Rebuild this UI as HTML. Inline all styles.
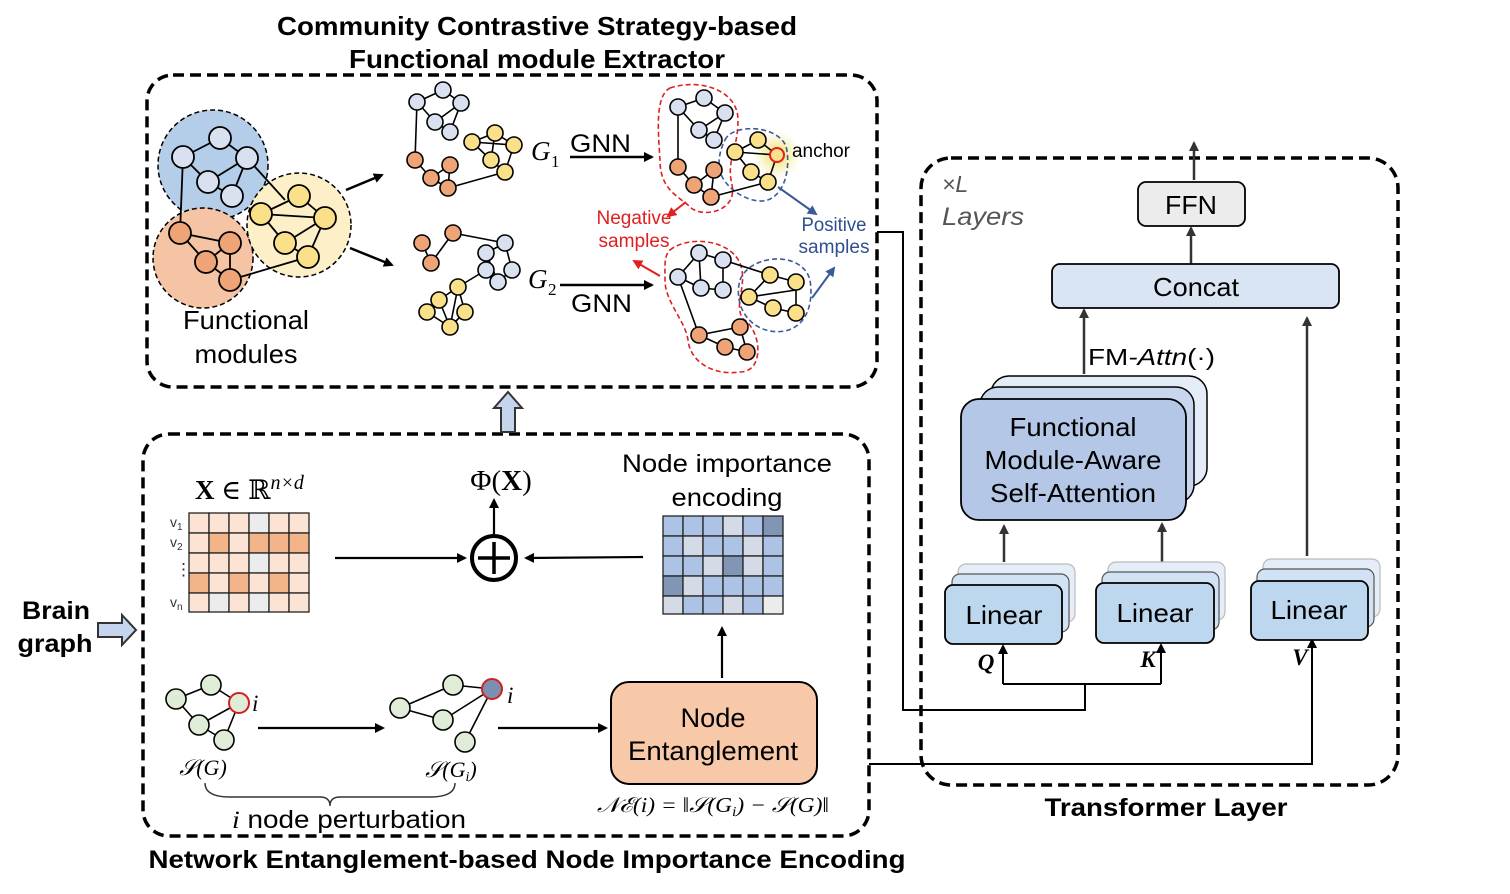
<!DOCTYPE html>
<html><head><meta charset="utf-8"><style>
html,body{margin:0;padding:0;background:#fff}
svg{display:block}
text{font-family:"Liberation Sans",sans-serif}
.ser{font-family:"Liberation Serif","DejaVu Serif",serif}
</style></head><body>
<svg width="1510" height="894" viewBox="0 0 1510 894" xmlns="http://www.w3.org/2000/svg">
<defs>
<marker id="ah" markerWidth="10" markerHeight="10" refX="8" refY="5" orient="auto" markerUnits="userSpaceOnUse"><path d="M0,0 L10,5 L0,10 Z" fill="#000"/></marker>
<marker id="ahg" markerWidth="10" markerHeight="10" refX="8" refY="5" orient="auto" markerUnits="userSpaceOnUse"><path d="M0,0 L10,5 L0,10 Z" fill="#333"/></marker>
<marker id="ahr" markerWidth="10" markerHeight="10" refX="8" refY="5" orient="auto" markerUnits="userSpaceOnUse"><path d="M0,0 L10,5 L0,10 Z" fill="#e02020"/></marker>
<marker id="ahb" markerWidth="10" markerHeight="10" refX="8" refY="5" orient="auto" markerUnits="userSpaceOnUse"><path d="M0,0 L10,5 L0,10 Z" fill="#3a5a9a"/></marker>
<radialGradient id="glow"><stop offset="0" stop-color="#e8d840" stop-opacity="0.9"/><stop offset="1" stop-color="#f0e880" stop-opacity="0"/></radialGradient>
</defs>

<!-- Titles -->
<text x="537" y="35" font-size="26" font-weight="bold" text-anchor="middle" textLength="520" lengthAdjust="spacingAndGlyphs">Community Contrastive Strategy-based</text>
<text x="537" y="68" font-size="26" font-weight="bold" text-anchor="middle" textLength="376" lengthAdjust="spacingAndGlyphs">Functional module Extractor</text>
<text x="527" y="868" font-size="25" font-weight="bold" text-anchor="middle" textLength="757" lengthAdjust="spacingAndGlyphs">Network Entanglement-based Node Importance Encoding</text>
<text x="1166" y="816" font-size="25" font-weight="bold" text-anchor="middle" textLength="243" lengthAdjust="spacingAndGlyphs">Transformer Layer</text>
<text x="56" y="619" font-size="25" font-weight="bold" text-anchor="middle" textLength="68" lengthAdjust="spacingAndGlyphs">Brain</text>
<text x="55" y="652" font-size="25" font-weight="bold" text-anchor="middle" textLength="75" lengthAdjust="spacingAndGlyphs">graph</text>

<!-- Dashed boxes -->
<rect x="147" y="75" width="730" height="312" rx="26" fill="none" stroke="#000" stroke-width="3.5" stroke-dasharray="11,6"/>
<rect x="143" y="434" width="726" height="402" rx="26" fill="none" stroke="#000" stroke-width="3.5" stroke-dasharray="11,6"/>
<rect x="921" y="158" width="477" height="627" rx="30" fill="none" stroke="#000" stroke-width="3.5" stroke-dasharray="11,6"/>

<!-- block arrows -->
<path d="M98,623 L122,623 L122,615 L136,630 L122,645 L122,637 L98,637 Z" fill="#c5d5ee" stroke="#333" stroke-width="2"/>
<path d="M501,432 L501,408 L494,408 L508,392 L522,408 L515,408 L515,432 Z" fill="#c5d5ee" stroke="#333" stroke-width="2"/>

<!-- Functional modules -->
<g stroke="#000" stroke-width="1.5" stroke-dasharray="5,3">
<circle cx="213" cy="165" r="55" fill="#b4cde8"/>
<circle cx="203" cy="258" r="50" fill="#f5c4a4"/>
<circle cx="299" cy="225" r="52" fill="#fdf0c8"/>
</g>
<g stroke="#000" stroke-width="1.8">
<line x1="183" y1="157" x2="180" y2="233"/>
<line x1="247" y1="158" x2="285" y2="200"/>
<line x1="230" y1="280" x2="308" y2="257"/>
<polyline points="183,157 220,138 247,158 232,196 208,182 183,157" fill="none"/>
<line x1="208" y1="182" x2="247" y2="158"/>
<line x1="180" y1="233" x2="230" y2="243"/><line x1="180" y1="233" x2="206" y2="262"/><line x1="230" y1="243" x2="206" y2="262"/><line x1="206" y1="262" x2="230" y2="280"/><line x1="230" y1="243" x2="230" y2="280"/>
<line x1="299" y1="196" x2="261" y2="214"/><line x1="299" y1="196" x2="325" y2="218"/><line x1="261" y1="214" x2="325" y2="218"/><line x1="261" y1="214" x2="285" y2="243"/><line x1="285" y1="243" x2="325" y2="218"/><line x1="325" y1="218" x2="308" y2="257"/><line x1="285" y1="243" x2="308" y2="257"/>
</g>
<g stroke="#000" stroke-width="1.8">
<g fill="#d9e1f0"><circle cx="183" cy="157" r="11"/><circle cx="220" cy="138" r="11"/><circle cx="247" cy="158" r="11"/><circle cx="208" cy="182" r="11"/><circle cx="232" cy="196" r="11"/></g>
<g fill="#eea476"><circle cx="180" cy="233" r="11"/><circle cx="230" cy="243" r="11"/><circle cx="206" cy="262" r="11"/><circle cx="230" cy="280" r="11"/></g>
<g fill="#fbe08a"><circle cx="299" cy="196" r="11"/><circle cx="261" cy="214" r="11"/><circle cx="325" cy="218" r="11"/><circle cx="285" cy="243" r="11"/><circle cx="308" cy="257" r="11"/></g>
</g>
<text x="246" y="329" font-size="26" text-anchor="middle" textLength="126" lengthAdjust="spacingAndGlyphs">Functional</text>
<text x="246" y="363" font-size="26" text-anchor="middle" textLength="103" lengthAdjust="spacingAndGlyphs">modules</text>
<line x1="346" y1="190" x2="382" y2="175" stroke="#000" stroke-width="2.5" marker-end="url(#ah)"/>
<line x1="350" y1="248" x2="392" y2="265" stroke="#000" stroke-width="2.5" marker-end="url(#ah)"/>

<!-- G1 graph -->
<g stroke="#000" stroke-width="1.6">
<line x1="417" y1="102" x2="443" y2="90"/><line x1="443" y1="90" x2="461" y2="103"/><line x1="417" y1="102" x2="435" y2="122"/><line x1="435" y1="122" x2="461" y2="103"/><line x1="461" y1="103" x2="450" y2="132"/><line x1="435" y1="122" x2="450" y2="132"/>
<line x1="417" y1="102" x2="415" y2="160"/>
<line x1="415" y1="160" x2="431" y2="178"/><line x1="450" y1="165" x2="431" y2="178"/><line x1="431" y1="178" x2="448" y2="188"/><line x1="450" y1="165" x2="448" y2="188"/>
<line x1="448" y1="188" x2="505" y2="172"/>
<line x1="472" y1="142" x2="495" y2="133"/><line x1="495" y1="133" x2="514" y2="145"/><line x1="472" y1="142" x2="514" y2="145"/><line x1="514" y1="145" x2="505" y2="172"/><line x1="491" y1="160" x2="505" y2="172"/><line x1="472" y1="142" x2="491" y2="160"/><line x1="495" y1="133" x2="491" y2="160"/>
</g>
<g stroke="#000" stroke-width="1.6">
<g fill="#d9e1f0"><circle cx="417" cy="102" r="8"/><circle cx="443" cy="90" r="8"/><circle cx="461" cy="103" r="8"/><circle cx="435" cy="122" r="8"/><circle cx="450" cy="132" r="8"/></g>
<g fill="#eea476"><circle cx="415" cy="160" r="8"/><circle cx="450" cy="165" r="8"/><circle cx="431" cy="178" r="8"/><circle cx="448" cy="188" r="8"/></g>
<g fill="#fbe08a"><circle cx="472" cy="142" r="8"/><circle cx="495" cy="133" r="8"/><circle cx="514" cy="145" r="8"/><circle cx="491" cy="160" r="8"/><circle cx="505" cy="172" r="8"/></g>
</g>

<!-- G2 graph -->
<g stroke="#000" stroke-width="1.6">
<line x1="422" y1="243" x2="431" y2="263"/><line x1="453" y1="233" x2="431" y2="263"/><line x1="453" y1="233" x2="505" y2="243"/>
<line x1="505" y1="243" x2="486" y2="253"/><line x1="486" y1="253" x2="486" y2="270"/><line x1="505" y1="243" x2="512" y2="270"/><line x1="512" y1="270" x2="498" y2="282"/><line x1="486" y1="270" x2="498" y2="282"/><line x1="486" y1="253" x2="498" y2="282"/>
<line x1="486" y1="270" x2="458" y2="287"/>
<line x1="458" y1="287" x2="439" y2="300"/><line x1="458" y1="287" x2="465" y2="312"/><line x1="439" y1="300" x2="427" y2="312"/><line x1="439" y1="300" x2="450" y2="327"/><line x1="427" y1="312" x2="450" y2="327"/><line x1="465" y1="312" x2="450" y2="327"/><line x1="458" y1="287" x2="450" y2="327"/>
</g>
<g stroke="#000" stroke-width="1.6">
<g fill="#eea476"><circle cx="422" cy="243" r="8"/><circle cx="453" cy="233" r="8"/><circle cx="431" cy="263" r="8"/></g>
<g fill="#d9e1f0"><circle cx="505" cy="243" r="8"/><circle cx="486" cy="253" r="8"/><circle cx="512" cy="270" r="8"/><circle cx="498" cy="282" r="8"/><circle cx="486" cy="270" r="8"/></g>
<g fill="#fbe08a"><circle cx="458" cy="287" r="8"/><circle cx="439" cy="300" r="8"/><circle cx="465" cy="312" r="8"/><circle cx="427" cy="312" r="8"/><circle cx="450" cy="327" r="8"/></g>
</g>

<!-- G labels & GNN -->
<text x="531" y="160" font-size="27" font-style="italic" class="ser">G</text><text x="551" y="167" font-size="17" class="ser">1</text>
<text x="570" y="152" font-size="25" textLength="61" lengthAdjust="spacingAndGlyphs">GNN</text>
<line x1="570" y1="157" x2="652" y2="157" stroke="#000" stroke-width="2.5" marker-end="url(#ah)"/>
<text x="528" y="288" font-size="27" font-style="italic" class="ser">G</text><text x="548" y="295" font-size="17" class="ser">2</text>
<text x="571" y="312" font-size="25" textLength="61" lengthAdjust="spacingAndGlyphs">GNN</text>
<line x1="560" y1="285" x2="652" y2="285" stroke="#000" stroke-width="2.5" marker-end="url(#ah)"/>

<!-- G1 embedding cluster -->
<circle cx="777" cy="155" r="24" fill="url(#glow)"/>
<path d="M670,88 C700,78 738,90 738,120 C738,150 726,160 732,185 C738,212 700,220 688,205 C676,195 660,188 660,160 C658,130 655,96 670,88Z" fill="none" stroke="#e02020" stroke-width="1.6" stroke-dasharray="5,3"/>
<path d="M725,140 C732,124 776,124 786,146 C792,172 782,202 760,201 C740,200 719,182 719,165 C719,155 721,148 725,140Z" fill="none" stroke="#3a5a9a" stroke-width="1.6" stroke-dasharray="5,3"/>
<g stroke="#000" stroke-width="1.6">
<line x1="678" y1="107" x2="704" y2="98"/><line x1="704" y1="98" x2="725" y2="113"/><line x1="678" y1="107" x2="699" y2="130"/><line x1="699" y1="130" x2="725" y2="113"/><line x1="725" y1="113" x2="714" y2="140"/><line x1="699" y1="130" x2="714" y2="140"/>
<line x1="678" y1="107" x2="678" y2="167"/>
<line x1="678" y1="167" x2="694" y2="185"/><line x1="714" y1="170" x2="694" y2="185"/><line x1="694" y1="185" x2="711" y2="197"/><line x1="714" y1="170" x2="711" y2="197"/>
<line x1="711" y1="197" x2="768" y2="182"/>
<line x1="735" y1="152" x2="758" y2="140"/><line x1="758" y1="140" x2="777" y2="155"/><line x1="735" y1="152" x2="777" y2="155"/><line x1="777" y1="155" x2="768" y2="182"/><line x1="751" y1="172" x2="768" y2="182"/><line x1="735" y1="152" x2="751" y2="172"/>
</g>
<g stroke="#000" stroke-width="1.6">
<g fill="#d9e1f0"><circle cx="678" cy="107" r="8"/><circle cx="704" cy="98" r="8"/><circle cx="725" cy="113" r="8"/><circle cx="699" cy="130" r="8"/><circle cx="714" cy="140" r="8"/></g>
<g fill="#eea476"><circle cx="678" cy="167" r="8"/><circle cx="714" cy="170" r="8"/><circle cx="694" cy="185" r="8"/><circle cx="711" cy="197" r="8"/></g>
<g fill="#fbe08a"><circle cx="735" cy="152" r="8"/><circle cx="758" cy="140" r="8"/><circle cx="751" cy="172" r="8"/><circle cx="768" cy="182" r="8"/></g>
</g>
<circle cx="777" cy="155" r="7" fill="#fbe08a" stroke="#e02020" stroke-width="2"/>
<text x="792" y="157" font-size="19" textLength="58" lengthAdjust="spacingAndGlyphs">anchor</text>
<line x1="686" y1="202" x2="668" y2="216" stroke="#e02020" stroke-width="2" marker-end="url(#ahr)"/>
<line x1="778" y1="187" x2="816" y2="214" stroke="#3a5a9a" stroke-width="2" marker-end="url(#ahb)"/>
<text x="634" y="224" font-size="19" fill="#e02020" text-anchor="middle" textLength="75" lengthAdjust="spacingAndGlyphs">Negative</text>
<text x="634" y="247" font-size="19" fill="#e02020" text-anchor="middle" textLength="71" lengthAdjust="spacingAndGlyphs">samples</text>
<text x="834" y="231" font-size="19" fill="#2f4f8f" text-anchor="middle" textLength="65" lengthAdjust="spacingAndGlyphs">Positive</text>
<text x="834" y="253" font-size="19" fill="#2f4f8f" text-anchor="middle" textLength="71" lengthAdjust="spacingAndGlyphs">samples</text>

<!-- G2 embedding cluster -->
<path d="M670,250 C690,234 737,240 742,270 C745,290 735,302 742,318 C762,330 765,372 740,372 C714,376 690,362 688,340 C685,320 665,302 665,280 C665,265 664,256 670,250Z" fill="none" stroke="#e02020" stroke-width="1.6" stroke-dasharray="5,3"/>
<path d="M740,280 C750,254 802,250 810,280 C815,312 800,336 770,331 C745,326 734,302 740,280Z" fill="none" stroke="#3a5a9a" stroke-width="1.6" stroke-dasharray="5,3"/>
<g stroke="#000" stroke-width="1.6">
<line x1="678" y1="277" x2="699" y2="253"/><line x1="699" y1="253" x2="723" y2="260"/><line x1="678" y1="277" x2="701" y2="288"/><line x1="699" y1="253" x2="701" y2="288"/><line x1="723" y1="260" x2="723" y2="290"/><line x1="701" y1="288" x2="723" y2="290"/>
<line x1="723" y1="260" x2="770" y2="275"/>
<line x1="678" y1="277" x2="699" y2="335"/>
<line x1="699" y1="335" x2="740" y2="327"/><line x1="699" y1="335" x2="725" y2="347"/><line x1="740" y1="327" x2="747" y2="352"/><line x1="725" y1="347" x2="747" y2="352"/>
<line x1="749" y1="297" x2="770" y2="275"/><line x1="770" y1="275" x2="796" y2="282"/><line x1="749" y1="297" x2="796" y2="290"/><line x1="796" y1="282" x2="796" y2="313"/><line x1="773" y1="308" x2="796" y2="313"/><line x1="749" y1="297" x2="773" y2="308"/>
</g>
<g stroke="#000" stroke-width="1.6">
<g fill="#d9e1f0"><circle cx="678" cy="277" r="8"/><circle cx="699" cy="253" r="8"/><circle cx="723" cy="260" r="8"/><circle cx="701" cy="288" r="8"/><circle cx="723" cy="290" r="8"/></g>
<g fill="#fbe08a"><circle cx="749" cy="297" r="8"/><circle cx="770" cy="275" r="8"/><circle cx="796" cy="282" r="8"/><circle cx="773" cy="308" r="8"/><circle cx="796" cy="313" r="8"/></g>
<g fill="#eea476"><circle cx="699" cy="335" r="8"/><circle cx="740" cy="327" r="8"/><circle cx="725" cy="347" r="8"/><circle cx="747" cy="352" r="8"/></g>
</g>
<line x1="660" y1="276" x2="634" y2="261" stroke="#e02020" stroke-width="2" marker-end="url(#ahr)"/>
<line x1="812" y1="298" x2="834" y2="268" stroke="#3a5a9a" stroke-width="2" marker-end="url(#ahb)"/>

<!-- Bottom: X matrix -->
<text x="195" y="499" font-size="27" class="ser"><tspan font-weight="bold">X</tspan> ∈ ℝ<tspan font-style="italic" font-size="20" dy="-10">n×d</tspan></text>
<g stroke="#222" stroke-width="1.3">
<rect x="189" y="513" width="20" height="20" fill="#fde3d3"/><rect x="209" y="513" width="20" height="20" fill="#fde3d3"/><rect x="229" y="513" width="20" height="20" fill="#fde3d3"/><rect x="249" y="513" width="20" height="20" fill="#ececec"/><rect x="269" y="513" width="20" height="20" fill="#fde3d3"/><rect x="289" y="513" width="20" height="20" fill="#fde3d3"/>
<rect x="189" y="533" width="20" height="20" fill="#fde3d3"/><rect x="209" y="533" width="20" height="20" fill="#f3b48a"/><rect x="229" y="533" width="20" height="20" fill="#fde3d3"/><rect x="249" y="533" width="20" height="20" fill="#f3b48a"/><rect x="269" y="533" width="20" height="20" fill="#f3b48a"/><rect x="289" y="533" width="20" height="20" fill="#f3b48a"/>
<rect x="189" y="553" width="20" height="20" fill="#fde3d3"/><rect x="209" y="553" width="20" height="20" fill="#fde3d3"/><rect x="229" y="553" width="20" height="20" fill="#fde3d3"/><rect x="249" y="553" width="20" height="20" fill="#ececec"/><rect x="269" y="553" width="20" height="20" fill="#fde3d3"/><rect x="289" y="553" width="20" height="20" fill="#fde3d3"/>
<rect x="189" y="573" width="20" height="20" fill="#f3b48a"/><rect x="209" y="573" width="20" height="20" fill="#fde3d3"/><rect x="229" y="573" width="20" height="20" fill="#f3b48a"/><rect x="249" y="573" width="20" height="20" fill="#fde3d3"/><rect x="269" y="573" width="20" height="20" fill="#f3b48a"/><rect x="289" y="573" width="20" height="20" fill="#fde3d3"/>
<rect x="189" y="593" width="20" height="19" fill="#fde3d3"/><rect x="209" y="593" width="20" height="19" fill="#ececec"/><rect x="229" y="593" width="20" height="19" fill="#fde3d3"/><rect x="249" y="593" width="20" height="19" fill="#ececec"/><rect x="269" y="593" width="20" height="19" fill="#fde3d3"/><rect x="289" y="593" width="20" height="19" fill="#fde3d3"/>
</g>
<g font-size="14" class="ser" fill="#333">
<text x="170" y="527">v<tspan font-size="10" dy="3">1</tspan></text>
<text x="170" y="547">v<tspan font-size="10" dy="3">2</tspan></text>
<text x="175" y="575" font-size="17">⋮</text>
<text x="170" y="607">v<tspan font-size="10" dy="3">n</tspan></text>
</g>
<line x1="335" y1="558" x2="465" y2="558" stroke="#000" stroke-width="2.2" marker-end="url(#ah)"/>
<circle cx="494" cy="558" r="22" fill="#fff" stroke="#000" stroke-width="4"/>
<line x1="478" y1="558" x2="510" y2="558" stroke="#000" stroke-width="3.5"/>
<line x1="494" y1="542" x2="494" y2="574" stroke="#000" stroke-width="3.5"/>
<line x1="494" y1="534" x2="494" y2="500" stroke="#000" stroke-width="2.2" marker-end="url(#ah)"/>
<text x="501" y="490" font-size="29" class="ser" text-anchor="middle">Φ(<tspan font-weight="bold">X</tspan>)</text>
<line x1="643" y1="557" x2="526" y2="558" stroke="#000" stroke-width="2.2" marker-end="url(#ah)"/>

<!-- Node importance matrix -->
<text x="727" y="472" font-size="25" text-anchor="middle" textLength="210" lengthAdjust="spacingAndGlyphs">Node importance</text>
<text x="727" y="506" font-size="25" text-anchor="middle" textLength="111" lengthAdjust="spacingAndGlyphs">encoding</text>
<g stroke="#222" stroke-width="1.3">
<rect x="663" y="516" width="20" height="20" fill="#adc3e6"/><rect x="683" y="516" width="20" height="20" fill="#adc3e6"/><rect x="703" y="516" width="20" height="20" fill="#adc3e6"/><rect x="723" y="516" width="20" height="20" fill="#d4dbe6"/><rect x="743" y="516" width="20" height="20" fill="#adc3e6"/><rect x="763" y="516" width="20" height="20" fill="#8096b4"/>
<rect x="663" y="536" width="20" height="20" fill="#adc3e6"/><rect x="683" y="536" width="20" height="20" fill="#d4dbe6"/><rect x="703" y="536" width="20" height="20" fill="#adc3e6"/><rect x="723" y="536" width="20" height="20" fill="#adc3e6"/><rect x="743" y="536" width="20" height="20" fill="#d4dbe6"/><rect x="763" y="536" width="20" height="20" fill="#adc3e6"/>
<rect x="663" y="556" width="20" height="20" fill="#adc3e6"/><rect x="683" y="556" width="20" height="20" fill="#adc3e6"/><rect x="703" y="556" width="20" height="20" fill="#d4dbe6"/><rect x="723" y="556" width="20" height="20" fill="#8096b4"/><rect x="743" y="556" width="20" height="20" fill="#d4dbe6"/><rect x="763" y="556" width="20" height="20" fill="#adc3e6"/>
<rect x="663" y="576" width="20" height="20" fill="#8096b4"/><rect x="683" y="576" width="20" height="20" fill="#d4dbe6"/><rect x="703" y="576" width="20" height="20" fill="#adc3e6"/><rect x="723" y="576" width="20" height="20" fill="#adc3e6"/><rect x="743" y="576" width="20" height="20" fill="#adc3e6"/><rect x="763" y="576" width="20" height="20" fill="#adc3e6"/>
<rect x="663" y="596" width="20" height="18" fill="#d4dbe6"/><rect x="683" y="596" width="20" height="18" fill="#adc3e6"/><rect x="703" y="596" width="20" height="18" fill="#adc3e6"/><rect x="723" y="596" width="20" height="18" fill="#d4dbe6"/><rect x="743" y="596" width="20" height="18" fill="#adc3e6"/><rect x="763" y="596" width="20" height="18" fill="#ececec"/>
</g>
<line x1="722" y1="678" x2="722" y2="628" stroke="#000" stroke-width="2.2" marker-end="url(#ah)"/>

<!-- Node Entanglement -->
<rect x="611" y="682" width="206" height="102" rx="18" fill="#f8c9a8" stroke="#000" stroke-width="2"/>
<text x="713" y="727" font-size="27" text-anchor="middle" textLength="65" lengthAdjust="spacingAndGlyphs">Node</text>
<text x="713" y="760" font-size="27" text-anchor="middle" textLength="170" lengthAdjust="spacingAndGlyphs">Entanglement</text>
<text x="713" y="812" font-size="21" class="ser" font-style="italic" text-anchor="middle" textLength="232" lengthAdjust="spacingAndGlyphs">𝒩ℰ(i) = ‖𝒮(G<tspan font-size="14" dy="4">i</tspan><tspan dy="-4">) − 𝒮(G)‖</tspan></text>

<!-- small graphs -->
<g stroke="#000" stroke-width="1.6">
<line x1="176" y1="699" x2="211" y2="685"/><line x1="211" y1="685" x2="239" y2="703"/><line x1="176" y1="699" x2="199" y2="725"/><line x1="199" y1="725" x2="239" y2="703"/><line x1="199" y1="725" x2="224" y2="740"/><line x1="239" y1="703" x2="224" y2="740"/>
<line x1="400" y1="708" x2="453" y2="685"/><line x1="453" y1="685" x2="492" y2="689"/><line x1="400" y1="708" x2="443" y2="720"/><line x1="443" y1="720" x2="492" y2="689"/><line x1="465" y1="742" x2="492" y2="689"/>
</g>
<g stroke="#000" stroke-width="1.6" fill="#dfedd8">
<circle cx="176" cy="699" r="10"/><circle cx="211" cy="685" r="10"/><circle cx="199" cy="725" r="10"/><circle cx="224" cy="740" r="10"/>
<circle cx="400" cy="708" r="10"/><circle cx="453" cy="685" r="10"/><circle cx="443" cy="720" r="10"/><circle cx="465" cy="742" r="10"/>
</g>
<circle cx="239" cy="703" r="10" fill="#dfedd8" stroke="#d02020" stroke-width="2"/>
<circle cx="492" cy="689" r="10" fill="#7d8fb0" stroke="#d02020" stroke-width="2"/>
<text x="252" y="711" font-size="23" font-style="italic" class="ser">i</text>
<text x="507" y="703" font-size="23" font-style="italic" class="ser">i</text>
<line x1="258" y1="728" x2="383" y2="728" stroke="#000" stroke-width="2.2" marker-end="url(#ah)"/>
<line x1="498" y1="728" x2="606" y2="728" stroke="#000" stroke-width="2.2" marker-end="url(#ah)"/>
<text x="203" y="775" font-size="22" font-style="italic" class="ser" text-anchor="middle">𝒮(G)</text>
<text x="451" y="777" font-size="22" font-style="italic" class="ser" text-anchor="middle">𝒮(G<tspan font-size="14" dy="4">i</tspan><tspan dy="-4">)</tspan></text>
<path d="M205,783 Q205,797 230,797 L320,797 Q330,797 330,806 Q330,797 340,797 L430,797 Q455,797 455,783" fill="none" stroke="#333" stroke-width="1.4"/>
<text x="349" y="828" font-size="25" text-anchor="middle" textLength="234" lengthAdjust="spacingAndGlyphs"><tspan font-style="italic" class="ser">i</tspan> node perturbation</text>

<!-- connectors to transformer -->
<polyline points="877,232 903,232 903,710 1085,710 1085,684" fill="none" stroke="#000" stroke-width="2"/>
<polyline points="1003,684 1161,684" fill="none" stroke="#000" stroke-width="2"/>
<line x1="1003" y1="684" x2="1003" y2="646" stroke="#000" stroke-width="2" marker-end="url(#ah)"/>
<line x1="1161" y1="684" x2="1161" y2="645" stroke="#000" stroke-width="2" marker-end="url(#ah)"/>
<polyline points="869,764 1312,764 1312,640" fill="none" stroke="#000" stroke-width="2" marker-end="url(#ah)"/>

<!-- Transformer internals -->
<text x="942" y="192" font-size="23" font-style="italic" fill="#555">×L</text>
<text x="942" y="225" font-size="25" font-style="italic" fill="#555" textLength="82" lengthAdjust="spacingAndGlyphs">Layers</text>
<line x1="1194" y1="180" x2="1194" y2="143" stroke="#333" stroke-width="2.5" marker-end="url(#ahg)"/>
<rect x="1138" y="182" width="107" height="44" rx="8" fill="#ececec" stroke="#000" stroke-width="1.8"/>
<text x="1191" y="214" font-size="26" text-anchor="middle" textLength="52" lengthAdjust="spacingAndGlyphs">FFN</text>
<line x1="1191" y1="264" x2="1191" y2="228" stroke="#333" stroke-width="2.5" marker-end="url(#ahg)"/>
<rect x="1052" y="264" width="287" height="44" rx="8" fill="#dae5f4" stroke="#000" stroke-width="1.8"/>
<text x="1196" y="296" font-size="26" text-anchor="middle" textLength="86" lengthAdjust="spacingAndGlyphs">Concat</text>
<line x1="1084" y1="374" x2="1084" y2="310" stroke="#333" stroke-width="2.5" marker-end="url(#ahg)"/>
<text x="1088" y="365" font-size="23" textLength="127" lengthAdjust="spacingAndGlyphs">FM<tspan font-style="italic">-Attn</tspan>(·)</text>
<line x1="1307" y1="556" x2="1307" y2="318" stroke="#333" stroke-width="2.5" marker-end="url(#ahg)"/>

<rect x="991" y="376" width="216" height="110" rx="18" fill="#e4ecf7" stroke="#000" stroke-width="1.5"/>
<rect x="980" y="387" width="214" height="116" rx="18" fill="#c9d7ee" stroke="#000" stroke-width="1.5"/>
<rect x="961" y="399" width="225" height="121" rx="18" fill="#b4c7e7" stroke="#000" stroke-width="1.8"/>
<text x="1073" y="436" font-size="26" text-anchor="middle" textLength="127" lengthAdjust="spacingAndGlyphs">Functional</text>
<text x="1073" y="469" font-size="26" text-anchor="middle" textLength="177" lengthAdjust="spacingAndGlyphs">Module-Aware</text>
<text x="1073" y="502" font-size="26" text-anchor="middle" textLength="166" lengthAdjust="spacingAndGlyphs">Self-Attention</text>
<line x1="1004" y1="562" x2="1004" y2="526" stroke="#333" stroke-width="2.5" marker-end="url(#ahg)"/>
<line x1="1162" y1="562" x2="1162" y2="524" stroke="#333" stroke-width="2.5" marker-end="url(#ahg)"/>

<!-- Linear Q -->
<rect x="958" y="564" width="117" height="58" rx="8" fill="#e5eef8" stroke="#bbb" stroke-width="1.2"/>
<rect x="952" y="574" width="117" height="58" rx="8" fill="#d0e2f3" stroke="#555" stroke-width="1.2"/>
<rect x="945" y="585" width="117" height="59" rx="8" fill="#bdd7ee" stroke="#000" stroke-width="1.8"/>
<text x="1004" y="624" font-size="26" text-anchor="middle" textLength="77" lengthAdjust="spacingAndGlyphs">Linear</text>
<!-- Linear K -->
<rect x="1108" y="562" width="117" height="58" rx="8" fill="#e5eef8" stroke="#bbb" stroke-width="1.2"/>
<rect x="1102" y="572" width="117" height="58" rx="8" fill="#d0e2f3" stroke="#555" stroke-width="1.2"/>
<rect x="1096" y="583" width="118" height="60" rx="8" fill="#bdd7ee" stroke="#000" stroke-width="1.8"/>
<text x="1155" y="622" font-size="26" text-anchor="middle" textLength="77" lengthAdjust="spacingAndGlyphs">Linear</text>
<!-- Linear V -->
<rect x="1263" y="559" width="117" height="58" rx="8" fill="#e5eef8" stroke="#bbb" stroke-width="1.2"/>
<rect x="1257" y="569" width="117" height="58" rx="8" fill="#d0e2f3" stroke="#555" stroke-width="1.2"/>
<rect x="1251" y="581" width="117" height="59" rx="8" fill="#bdd7ee" stroke="#000" stroke-width="1.8"/>
<text x="1309" y="619" font-size="26" text-anchor="middle" textLength="77" lengthAdjust="spacingAndGlyphs">Linear</text>

<text x="986" y="670" font-size="23" font-weight="bold" font-style="italic" class="ser" text-anchor="middle">Q</text>
<text x="1148" y="667" font-size="23" font-weight="bold" font-style="italic" class="ser" text-anchor="middle">K</text>
<text x="1300" y="665" font-size="23" font-weight="bold" font-style="italic" class="ser" text-anchor="middle">V</text>
</svg>
</body></html>
